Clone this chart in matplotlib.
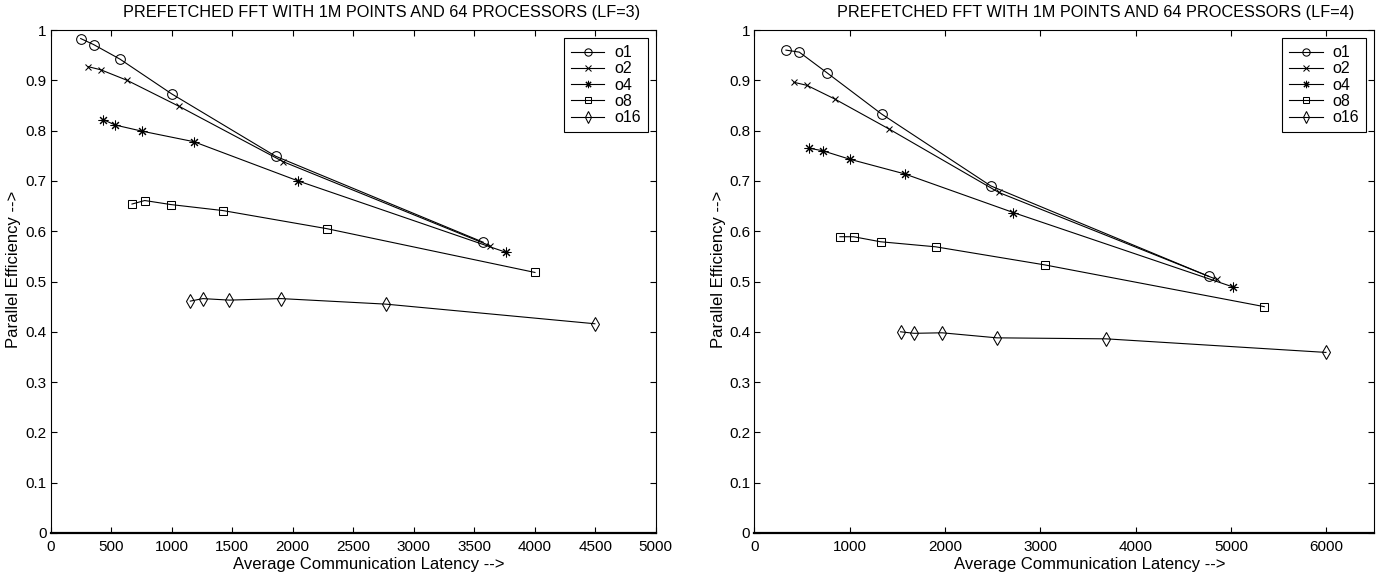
import numpy as np
import matplotlib
matplotlib.use('Agg')
from matplotlib import pyplot as plt

plt.rcParams['font.family'] = ['Liberation Sans', 'DejaVu Sans']

# Data: average communication latency vs parallel efficiency
labels = ['o1', 'o2', 'o4', 'o8', 'o16']

# LF=3
lf3_x = [
    [248, 355, 573, 1000, 1859, 3575],
    [311, 413, 631, 1063, 1923, 3631],
    [432, 534, 752, 1182, 2044, 3763],
    [672, 777, 992, 1424, 2283, 4002],
    [1154, 1257, 1476, 1905, 2770, 4497],
]
lf3_y = [
    [0.983, 0.971, 0.942, 0.873, 0.749, 0.578],
    [0.927, 0.921, 0.900, 0.848, 0.738, 0.571],
    [0.822, 0.811, 0.799, 0.778, 0.700, 0.558],
    [0.654, 0.661, 0.653, 0.641, 0.605, 0.518],
    [0.461, 0.466, 0.463, 0.466, 0.455, 0.416],
]

# LF=4
lf4_x = [
    [332, 472, 762, 1335, 2481, 4769],
    [416, 552, 842, 1415, 2565, 4850],
    [573, 716, 1003, 1576, 2718, 5023],
    [898, 1041, 1324, 1901, 3047, 5349],
    [1534, 1676, 1970, 2544, 3691, 5996],
]
lf4_y = [
    [0.960, 0.956, 0.915, 0.833, 0.690, 0.510],
    [0.896, 0.890, 0.863, 0.803, 0.677, 0.504],
    [0.765, 0.760, 0.743, 0.714, 0.637, 0.489],
    [0.589, 0.589, 0.579, 0.569, 0.533, 0.450],
    [0.400, 0.397, 0.398, 0.388, 0.386, 0.359],
]

asterisk = (8, 2, 0)
markers = ['o', 'x', asterisk, 's', 'd']
msizes = [7, 5, 7, 5.5, 7.5]

fig = plt.figure(figsize=(13.84, 5.76), dpi=100)
ax1 = fig.add_axes([50.7/1384, 1-533/576, 605/1384, 503/576])
ax2 = fig.add_axes([754.3/1384, 1-533/576, 619.7/1384, 503/576])


def draw(ax, xs, ys, xmax, xticks, title, tx, xl_x, yl_x):
    for x, y, m, ms, lab in zip(xs, ys, markers, msizes, labels):
        ax.plot(x, y, color='black', linewidth=0.8, marker=m, markersize=ms,
                markerfacecolor='none', markeredgecolor='black',
                markeredgewidth=0.75, label=lab)
    ax.set_xlim(0, xmax)
    ax.set_ylim(0, 1)
    ax.set_xticks(xticks)
    ax.set_yticks(np.arange(0, 1.01, 0.1))
    ax.set_yticklabels(['0', '0.1', '0.2', '0.3', '0.4', '0.5', '0.6', '0.7', '0.8', '0.9', '1'])
    ax.tick_params(direction='in', length=4, width=0.8, top=True, right=True,
                   labelsize=11)
    ax.tick_params(axis='y', pad=3)
    ax.tick_params(axis='x', pad=5)
    for s in ax.spines.values():
        s.set_linewidth(0.8)
    ax.spines['bottom'].set_linewidth(1.6)
    ax.set_xlabel('Average Communication Latency -->', fontsize=12)
    ax.xaxis.label.set_va('center')
    ax.xaxis.set_label_coords(xl_x, -0.0636)
    ax.set_ylabel('Parallel Efficiency -->', fontsize=12)
    ax.yaxis.label.set_va('center')
    ax.yaxis.set_label_coords(yl_x, 0.525)
    fig.text(tx/1384, 1-12.5/576, title, fontsize=11.7, ha='center', va='center')
    leg = ax.legend(loc='upper right', fontsize=11.5, fancybox=False, framealpha=1,
                    edgecolor='black', handlelength=2.1, handletextpad=0.6,
                    labelspacing=0.08, borderpad=0.45, markerscale=0.75)
    leg.get_frame().set_linewidth(0.8)


draw(ax1, lf3_x, lf3_y, 5000, np.arange(0, 5001, 500),
     'PREFETCHED FFT WITH 1M POINTS AND 64 PROCESSORS (LF=3)', 382, 0.526, -0.0607)
draw(ax2, lf4_x, lf4_y, 6500, np.arange(0, 6001, 1000),
     'PREFETCHED FFT WITH 1M POINTS AND 64 PROCESSORS (LF=4)', 1096, 0.542, -0.057)

plt.savefig('out.png', dpi=100)
